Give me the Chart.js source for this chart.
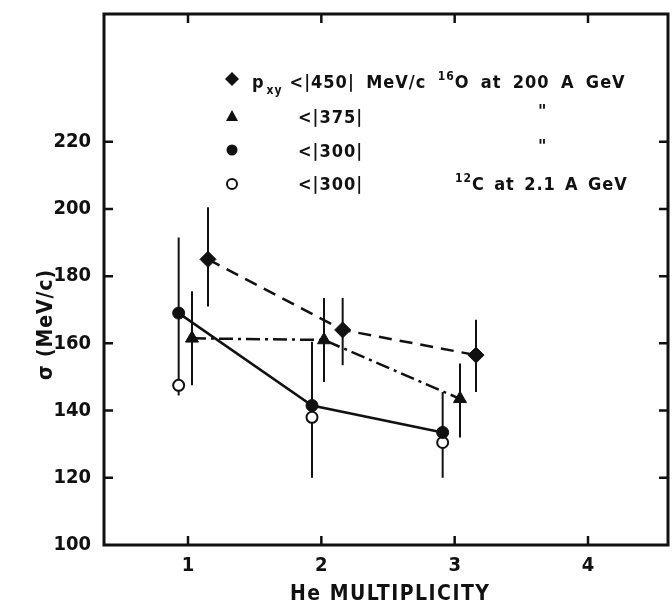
<!DOCTYPE html>
<html><head><meta charset="utf-8">
<script src="https://cdn.jsdelivr.net/npm/chart.js@4.4.0/dist/chart.umd.min.js"></script>
<style>html,body{margin:0;padding:0;background:#fff}</style>
</head><body>
<canvas id="c" width="672" height="606"></canvas>
<script>
const xTicks = [1, 2, 3, 4];
const yTicks = [100, 120, 140, 160, 180, 200, 220];

// 16O, pxy < |450| MeV/c  (diamonds, dashed)
const diamondX  = [1.15, 2.16, 3.16];
const diamondY  = [185, 164, 156.5];
const diamondLo = [171, 153.5, 145.5];
const diamondHi = [200.5, 173.5, 167];

// 16O, pxy < |375|  (triangles, dash-dot)
const triX  = [1.03, 2.02, 3.04];
const triY  = [161.5, 161, 143.5];
const triLo = [147.5, 148.5, 132];
const triHi = [175.5, 173.5, 154];

// 16O, pxy < |300|  (filled circles, solid)
const dotX  = [0.93, 1.93, 2.91];
const dotY  = [169, 141.5, 133.5];
const dotLo = [148, 120, 120];
const dotHi = [191.5, 160.5, 145.5];

// 12C at 2.1 A GeV, pxy < |300|  (open circles)
const openX  = [0.93, 1.93, 2.91];
const openY  = [147.5, 138, 130.5];
const openLo = [144.5, null, null];
const openHi = [null, null, null];

const FONT = '"DejaVu Sans Condensed", "DejaVu Sans", sans-serif';
const INK = '#111';

function pts(xs, ys) { return xs.map((x, i) => ({ x: x, y: ys[i] })); }

function fitText(ctx, text, x0, x1, y) {
  ctx.letterSpacing = '0px';
  const w = ctx.measureText(text).width;
  const n = text.length;
  const ls = n > 1 ? ((x1 - x0) - w) / (n - 1) : 0;
  ctx.letterSpacing = ls.toFixed(2) + 'px';
  ctx.fillText(text, x0, y);
  ctx.letterSpacing = '0px';
}

// lay out pieces between x0 and x1; flexible gaps share the leftover space
function drawRow(ctx, pieces, x0, x1, y) {
  const LS = 1;
  let natural = 0, flex = 0;
  pieces.forEach(p => {
    ctx.font = p.font; ctx.letterSpacing = LS + 'px';
    p.w = ctx.measureText(p.t).width - LS;
    natural += p.w + (p.gap != null ? p.gap : 0);
    if (p.gap == null) flex++;
  });
  const g = flex ? (x1 - x0 - natural) / flex : 0;
  let x = x0;
  pieces.forEach((p, i) => {
    if (i > 0) x += (p.gap != null ? p.gap : g);
    ctx.font = p.font; ctx.letterSpacing = LS + 'px';
    ctx.fillText(p.t, x, y + (p.dy || 0));
    x += p.w;
  });
  ctx.letterSpacing = '0px';
}

const errorBars = {
  id: 'errorBars',
  beforeDatasetsDraw(chart) {
    const ctx = chart.ctx, xs = chart.scales.x, ys = chart.scales.y;
    ctx.save();
    ctx.strokeStyle = INK;
    ctx.lineWidth = 2;
    chart.data.datasets.forEach(ds => {
      ds.data.forEach((p, i) => {
        const lo = ds.errLo[i], hi = ds.errHi[i];
        const px = xs.getPixelForValue(p.x);
        const top = ys.getPixelForValue(hi != null ? hi : p.y);
        const bot = ys.getPixelForValue(lo != null ? lo : p.y);
        if (top === bot) return;
        ctx.beginPath(); ctx.moveTo(px, top); ctx.lineTo(px, bot); ctx.stroke();
      });
    });
    ctx.restore();
  }
};

const frame = {
  id: 'frame',
  afterDraw(chart) {
    const ctx = chart.ctx, a = chart.chartArea, xs = chart.scales.x, ys = chart.scales.y;
    ctx.save();
    ctx.strokeStyle = INK;
    ctx.lineWidth = 3;
    ctx.strokeRect(a.left, a.top, a.right - a.left, a.bottom - a.top);
    ctx.lineWidth = 2.5;
    const L = 9;
    ctx.beginPath();
    yTicks.forEach(v => {
      if (v === yTicks[0]) return;
      const py = ys.getPixelForValue(v);
      ctx.moveTo(a.left, py); ctx.lineTo(a.left + L, py);
      ctx.moveTo(a.right, py); ctx.lineTo(a.right - L, py);
    });
    xTicks.forEach(v => {
      const px = xs.getPixelForValue(v);
      ctx.moveTo(px, a.bottom); ctx.lineTo(px, a.bottom - L);
      ctx.moveTo(px, a.top); ctx.lineTo(px, a.top + L);
    });
    ctx.stroke();

    // axis titles
    ctx.fillStyle = INK;
    ctx.textBaseline = 'alphabetic';
    ctx.textAlign = 'left';
    ctx.font = 'bold 21px ' + FONT;
    fitText(ctx, 'He MULTIPLICITY', 290, 489, 600);
    ctx.save();
    ctx.translate(52, 380);
    ctx.rotate(-Math.PI / 2);
    ctx.font = 'bold 21px ' + FONT;
    fitText(ctx, 'σ (MeV/c)', 0, 110, 0);
    ctx.restore();

    // legend markers
    const mx = 232;
    ctx.lineWidth = 2;
    ctx.beginPath();
    ctx.moveTo(mx, 72); ctx.lineTo(mx + 7, 79); ctx.lineTo(mx, 86); ctx.lineTo(mx - 7, 79);
    ctx.closePath(); ctx.fill();
    ctx.beginPath();
    ctx.moveTo(mx, 110); ctx.lineTo(mx + 6, 121); ctx.lineTo(mx - 6, 121);
    ctx.closePath(); ctx.fill();
    ctx.beginPath(); ctx.arc(mx, 150, 5.5, 0, Math.PI * 2); ctx.fill();
    ctx.beginPath(); ctx.arc(mx, 184, 5, 0, Math.PI * 2); ctx.stroke();

    const f = 'bold 18px ' + FONT, fs = 'bold 12px ' + FONT;
    drawRow(ctx, [
      { t: 'p', font: f },
      { t: 'xy', font: fs, dy: 6, gap: 3 },
      { t: '<|450|', font: f, gap: 8 },
      { t: 'MeV/c', font: f },
      { t: '16', font: fs, dy: -8 },
      { t: 'O', font: f, gap: 1 },
      { t: 'at', font: f },
      { t: '200', font: f },
      { t: 'A', font: f },
      { t: 'GeV', font: f }
    ], 252, 637, 88);

    ctx.font = f;
    ctx.letterSpacing = '1px';
    ctx.fillText('<|375|', 298, 123);
    ctx.fillText('<|300|', 298, 157);
    ctx.fillText('<|300|', 298, 190);
    ctx.letterSpacing = '0px';
    ctx.fillText('"', 538, 117);
    ctx.fillText('"', 538, 152);
    drawRow(ctx, [
      { t: '12', font: fs, dy: -8 },
      { t: 'C', font: f, gap: 1 },
      { t: 'at', font: f },
      { t: '2.1', font: f },
      { t: 'A', font: f },
      { t: 'GeV', font: f }
    ], 455, 637, 190);
    ctx.restore();
  }
};

new Chart(document.getElementById('c'), {
  type: 'scatter',
  data: {
    datasets: [
      { label: 'diamond', data: pts(diamondX, diamondY), errLo: diamondLo, errHi: diamondHi,
        showLine: true, borderColor: INK, borderWidth: 2.5, borderDash: [13, 8],
        pointStyle: 'rectRot', pointRadius: 8, pointBackgroundColor: INK, pointBorderColor: INK, pointBorderWidth: 1 },
      { label: 'triangle', data: pts(triX, triY), errLo: triLo, errHi: triHi,
        showLine: true, borderColor: INK, borderWidth: 2.5, borderDash: [14, 5, 3, 5],
        pointStyle: 'triangle', pointRadius: 7.5, pointBackgroundColor: INK, pointBorderColor: INK, pointBorderWidth: 1 },
      { label: 'dot', data: pts(dotX, dotY), errLo: dotLo, errHi: dotHi,
        showLine: true, borderColor: INK, borderWidth: 2.5,
        pointStyle: 'circle', pointRadius: 6, pointBackgroundColor: INK, pointBorderColor: INK, pointBorderWidth: 1 },
      { label: 'open', data: pts(openX, openY), errLo: openLo, errHi: openHi,
        showLine: false,
        pointStyle: 'circle', pointRadius: 5.5, pointBackgroundColor: '#fff', pointBorderColor: INK, pointBorderWidth: 2 }
    ]
  },
  options: {
    responsive: false,
    animation: false,
    layout: { autoPadding: false, padding: { left: 0, right: 4, top: 14, bottom: 0 } },
    plugins: { legend: { display: false }, tooltip: { enabled: false } },
    scales: {
      x: {
        type: 'linear', min: 0.37, max: 4.6,
        afterBuildTicks: s => { s.ticks = xTicks.map(v => ({ value: v })); },
        afterFit: s => { s.height = 61; s.paddingLeft = 0; s.paddingRight = 0; },
        grid: { display: false, drawTicks: false },
        border: { display: false },
        ticks: { color: INK, font: { family: 'DejaVu Sans Condensed', size: 20, weight: 'bold' }, padding: 9, callback: v => String(v), maxRotation: 0 }
      },
      y: {
        type: 'linear', min: 100, max: 258,
        afterBuildTicks: s => { s.ticks = yTicks.map(v => ({ value: v })); },
        afterFit: s => { s.width = 104; s.paddingTop = 0; s.paddingBottom = 0; },
        grid: { display: false, drawTicks: false },
        border: { display: false },
        ticks: { color: INK, font: { family: 'DejaVu Sans Condensed', size: 20, weight: 'bold' }, padding: 13, callback: v => String(v) }
      }
    }
  },
  plugins: [errorBars, frame]
});
</script>
</body></html>
